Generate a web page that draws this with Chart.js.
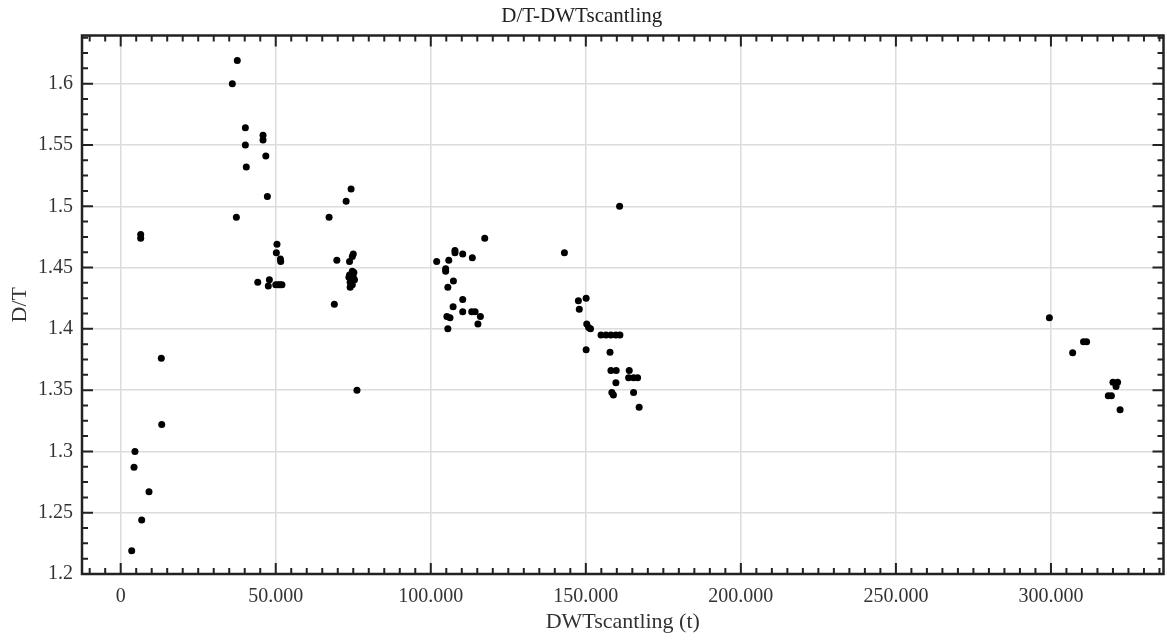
<!DOCTYPE html>
<html>
<head>
<meta charset="utf-8">
<script src="https://cdn.jsdelivr.net/npm/chart.js@4"></script>
<style>
  html, body { margin: 0; padding: 0; background: #fff; }
  #wrap { width: 1167px; height: 644px; }
</style>
</head>
<body>
<div id="wrap"><canvas id="chart" width="1167" height="644"></canvas></div>
<script>
// DWTscantling (t) of each ship
const dwt = [
  3550, 4600, 4300, 6770, 9130, 13230, 13100, 6450, 6450,
  37600, 36000, 40200, 40200, 40500, 45900, 45900, 46800, 47300, 37300,
  50400, 50200, 51500, 51600, 44200, 47950, 47600, 50000, 50800, 51400, 52000,
  74300, 72700, 67200, 69700, 68900, 76200,
  75000, 74700, 73800, 74700, 73800, 75000, 75400, 74000, 74700, 74000, 75200, 73600,
  117400, 107800, 107800, 110300, 113400, 105800, 101900, 104800, 104800, 107300,
  105500, 110300, 107200, 110300, 113200, 114300, 105200, 106200, 116000, 115200, 105500,
  143100, 147600, 150100, 147900, 160900,
  150300, 150900, 151500, 154900, 156500, 158100, 159700, 161000,
  150100, 157800, 158100, 159800, 164000, 163800, 165400, 166700, 159700,
  158400, 158900, 165400, 167200,
  299500, 310500, 311500, 307000, 320000, 321500, 321000, 318500, 319500, 322300
];

// D/T ratio of each ship
const dtRatio = [
  1.219, 1.300, 1.287, 1.244, 1.267, 1.322, 1.376, 1.477, 1.474,
  1.619, 1.600, 1.564, 1.550, 1.532, 1.558, 1.554, 1.541, 1.508, 1.491,
  1.469, 1.462, 1.457, 1.455, 1.438, 1.440, 1.435, 1.436, 1.436, 1.436, 1.436,
  1.514, 1.504, 1.491, 1.456, 1.420, 1.350,
  1.461, 1.459, 1.455, 1.447, 1.444, 1.442, 1.440, 1.438, 1.436, 1.434, 1.446, 1.442,
  1.474, 1.464, 1.462, 1.461, 1.458, 1.456, 1.455, 1.449, 1.447, 1.439,
  1.434, 1.424, 1.418, 1.414, 1.414, 1.414, 1.410, 1.409, 1.410, 1.404, 1.400,
  1.462, 1.423, 1.425, 1.416, 1.500,
  1.404, 1.401, 1.400, 1.395, 1.395, 1.395, 1.395, 1.395,
  1.383, 1.381, 1.366, 1.366, 1.366, 1.360, 1.360, 1.360, 1.356,
  1.348, 1.346, 1.348, 1.336,
  1.409, 1.3895, 1.3895, 1.3805, 1.3565, 1.3565, 1.353, 1.3455, 1.3455, 1.334
];

const xTickValues = [0, 50000, 100000, 150000, 200000, 250000, 300000];
const yTickValues = [1.2, 1.25, 1.3, 1.35, 1.4, 1.45, 1.5, 1.55, 1.6];
const xMinorStep = 5000;
const yMinorStep = 0.0125;

const points = dwt.map((v, i) => ({ x: v, y: dtRatio[i] }));

// thousands with a dot, like 50.000
function fmtThousands(v) {
  return String(v).replace(/\B(?=(\d{3})+(?!\d))/g, '.');
}

// frame round the plot with ticks pointing inwards on all four sides
const frameTicks = {
  id: 'frameTicks',
  afterDatasetsDraw(chart) {
    const { ctx, chartArea: a, scales: { x, y } } = chart;
    ctx.save();
    ctx.strokeStyle = '#222';
    ctx.lineWidth = 2;
    ctx.beginPath();
    const xStart = Math.ceil(x.min / xMinorStep);
    const xEnd = Math.floor(x.max / xMinorStep);
    for (let i = xStart; i <= xEnd; i++) {
      const v = i * xMinorStep;
      const px = x.getPixelForValue(v);
      const len = v % 50000 === 0 ? 11 : 6;
      ctx.moveTo(px, a.bottom); ctx.lineTo(px, a.bottom - len);
      ctx.moveTo(px, a.top); ctx.lineTo(px, a.top + len);
    }
    for (let i = 0; ; i++) {
      const v = 1.2 + i * yMinorStep;
      if (v > y.max) break;
      const py = y.getPixelForValue(v);
      const len = i % 4 === 0 ? 11 : 6;
      ctx.moveTo(a.left, py); ctx.lineTo(a.left + len, py);
      ctx.moveTo(a.right, py); ctx.lineTo(a.right - len, py);
    }
    ctx.stroke();
    ctx.lineWidth = 2.5;
    ctx.strokeRect(a.left, a.top, a.right - a.left, a.bottom - a.top);
    ctx.restore();
  }
};

const serif = 'Liberation Serif, Times New Roman, serif';

new Chart(document.getElementById('chart').getContext('2d'), {
  type: 'scatter',
  data: {
    datasets: [{
      label: 'D/T',
      data: points,
      backgroundColor: '#000',
      borderColor: '#000',
      pointRadius: 3.5,
      pointHoverRadius: 3.5,
      borderWidth: 0
    }]
  },
  options: {
    responsive: false,
    animation: false,
    layout: { padding: { left: 0, right: 3.5, top: 0, bottom: 0 } },
    plugins: {
      legend: { display: false },
      tooltip: { enabled: false },
      title: {
        display: true,
        text: 'D/T-DWTscantling',
        color: '#222',
        font: { family: serif, size: 21, weight: 'normal' },
        padding: { top: 4, bottom: 6.3 }
      }
    },
    scales: {
      x: {
        type: 'linear',
        min: -12480,
        max: 336300,
        afterBuildTicks: (s) => { s.ticks = xTickValues.map(v => ({ value: v })); },
        afterFit: (s) => { s.height = 70; },
        ticks: {
          color: '#333',
          padding: 11,
          font: { family: serif, size: 20 },
          callback: (v) => fmtThousands(v)
        },
        grid: { color: '#dcdcdc', lineWidth: 1.5, drawTicks: false },
        border: { display: false },
        title: {
          display: true,
          text: 'DWTscantling (t)',
          color: '#333',
          font: { family: serif, size: 22 },
          padding: { top: 0, bottom: 9 }
        }
      },
      y: {
        type: 'linear',
        min: 1.2,
        max: 1.6393,
        afterBuildTicks: (s) => { s.ticks = yTickValues.map(v => ({ value: v })); },
        afterFit: (s) => { s.width = 82; },
        ticks: {
          color: '#333',
          padding: 9,
          font: { family: serif, size: 20 },
          callback: (v) => String(+v.toFixed(2))
        },
        grid: { color: '#dcdcdc', lineWidth: 1.5, drawTicks: false },
        border: { display: false },
        title: {
          display: true,
          text: 'D/T',
          color: '#333',
          font: { family: serif, size: 22 },
          padding: { top: 7, bottom: 0 }
        }
      }
    }
  },
  plugins: [frameTicks]
});
</script>
</body>
</html>
